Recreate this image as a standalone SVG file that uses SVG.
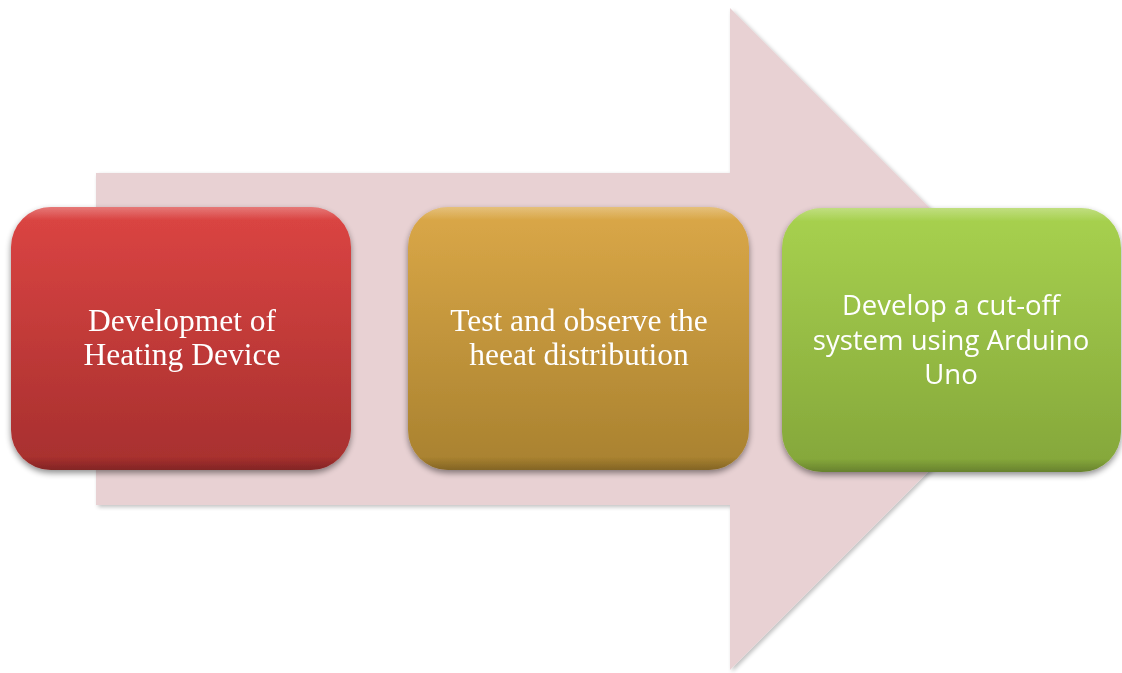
<svg xmlns="http://www.w3.org/2000/svg" width="1122" height="673" viewBox="0 0 1122 673">
  <defs>
    <linearGradient id="gRed" x1="0" y1="0" x2="0" y2="1">
      <stop offset="0" stop-color="#dc4543"/>
      <stop offset="1" stop-color="#a62f2e"/>
    </linearGradient>
    <linearGradient id="gGold" x1="0" y1="0" x2="0" y2="1">
      <stop offset="0" stop-color="#dba848"/>
      <stop offset="1" stop-color="#a8812f"/>
    </linearGradient>
    <linearGradient id="gGreen" x1="0" y1="0" x2="0" y2="1">
      <stop offset="0" stop-color="#a8d24f"/>
      <stop offset="1" stop-color="#84a63a"/>
    </linearGradient>
    <linearGradient id="bevel" x1="0" y1="0" x2="0" y2="1">
      <stop offset="0" stop-color="#ffffff" stop-opacity="0.28"/>
      <stop offset="0.05" stop-color="#ffffff" stop-opacity="0"/>
      <stop offset="0.95" stop-color="#000000" stop-opacity="0"/>
      <stop offset="1" stop-color="#000000" stop-opacity="0.22"/>
    </linearGradient>
    <filter id="shadow" x="-10%" y="-10%" width="120%" height="125%">
      <feGaussianBlur in="SourceAlpha" stdDeviation="3"/>
      <feOffset dx="0" dy="3" result="b"/>
      <feComponentTransfer><feFuncA type="linear" slope="0.45"/></feComponentTransfer>
      <feMerge><feMergeNode/><feMergeNode in="SourceGraphic"/></feMerge>
    </filter>
    <filter id="arrowShadow" x="-5%" y="-5%" width="110%" height="110%">
      <feGaussianBlur in="SourceAlpha" stdDeviation="2"/>
      <feOffset dx="2" dy="2"/>
      <feComponentTransfer><feFuncA type="linear" slope="0.25"/></feComponentTransfer>
      <feMerge><feMergeNode/><feMergeNode in="SourceGraphic"/></feMerge>
    </filter>
  </defs>
  <style>
    .serif { font-family: "Liberation Serif", "Times New Roman", serif; font-size: 31.5px; fill: #ffffff; text-anchor: middle; }
    .sans { font-family: "Open Sans", "Liberation Sans", sans-serif; font-size: 27.5px; fill: #ffffff; text-anchor: middle; }
  </style>

  <!-- background flow arrow -->
  <g id="connectors">
    <path d="M96,173 L730,173 L730,8 L1061,339 L730,670 L730,505 L96,505 Z" fill="#e8d1d3" filter="url(#arrowShadow)"/>
  </g>

  <g id="step1" filter="url(#shadow)">
    <rect x="11" y="207" width="340" height="263" rx="40" fill="url(#gRed)"/>
    <rect x="11" y="207" width="340" height="263" rx="40" fill="url(#bevel)"/>
    <text class="serif" x="182" y="331">Developmet of</text>
    <text class="serif" x="182" y="365">Heating Device</text>
  </g>

  <g id="step2" filter="url(#shadow)">
    <rect x="408" y="207" width="341" height="263" rx="40" fill="url(#gGold)"/>
    <rect x="408" y="207" width="341" height="263" rx="40" fill="url(#bevel)"/>
    <text class="serif" x="579" y="331">Test and observe the</text>
    <text class="serif" x="579" y="365">heeat distribution</text>
  </g>

  <g id="step3" filter="url(#shadow)">
    <rect x="782" y="208" width="339" height="264" rx="40" fill="url(#gGreen)"/>
    <rect x="782" y="208" width="339" height="264" rx="40" fill="url(#bevel)"/>
    <text class="sans" x="951" y="315">Develop a cut-off</text>
    <text class="sans" x="951" y="350">system using Arduino</text>
    <text class="sans" x="951" y="384">Uno</text>
  </g>
</svg>
